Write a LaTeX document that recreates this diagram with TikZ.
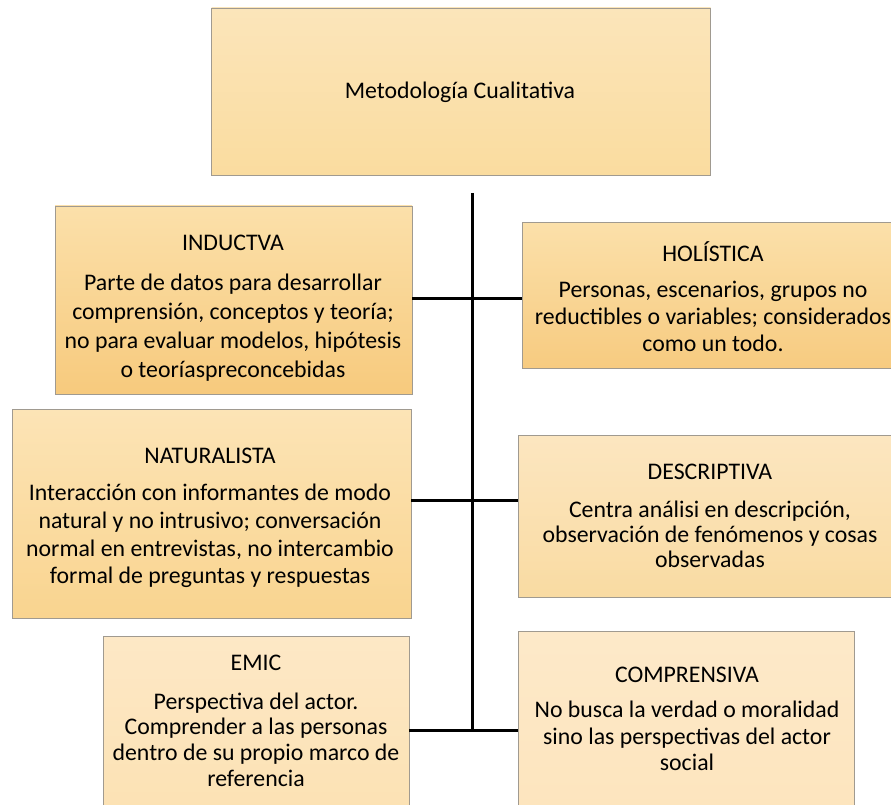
\documentclass[tikz,border=0pt]{standalone}
\usepackage{fontspec}
\setmainfont{Carlito}
\definecolor{edge}{HTML}{A09A90}
\tikzset{
  box/.style={draw=edge, line width=0.9pt, rectangle, inner sep=0pt},
  txt/.style={align=center, inner sep=0pt, font=\fontsize{23.8}{#1}\selectfont},
  conn/.style={line width=3pt, black}
}
\begin{document}
\begin{tikzpicture}[x=1pt,y=-1pt]
\useasboundingbox (0,0) rectangle (891,805);
% boxes
\node[box, top color={rgb,255:red,251;green,229;blue,186}, bottom color={rgb,255:red,250;green,220;blue,159}, minimum width=499pt, minimum height=167pt] (meto) at (461,91.5) {};
\node[box, top color={rgb,255:red,251;green,224;blue,170}, bottom color={rgb,255:red,247;green,202;blue,125}, minimum width=357pt, minimum height=188pt] (ind) at (233.5,300) {};
\node[box, top color={rgb,255:red,251;green,224;blue,170}, bottom color={rgb,255:red,247;green,203;blue,128}, minimum width=382pt, minimum height=146pt] (hol) at (713,295) {};
\node[box, top color={rgb,255:red,252;green,228;blue,182}, bottom color={rgb,255:red,249;green,212;blue,143}, minimum width=399pt, minimum height=209pt] (nat) at (211.5,513.5) {};
\node[box, top color={rgb,255:red,252;green,230;blue,192}, bottom color={rgb,255:red,249;green,219;blue,162}, minimum width=384pt, minimum height=162pt] (des) at (710,516) {};
\node[box, top color={rgb,255:red,253;green,232;blue,198}, bottom color={rgb,255:red,252;green,226;blue,180}, minimum width=306pt, minimum height=170pt] (emic) at (256,721) {};
\node[box, top color={rgb,255:red,253;green,233;blue,201}, bottom color={rgb,255:red,253;green,229;blue,190}, minimum width=336pt, minimum height=176pt] (comp) at (686,719) {};
% texts
\node[txt=29] (metoT) at (460,92) {Metodología Cualitativa};
\node[txt=29] (indT) at (233,308.5) {INDUCTVA\\[11pt]Parte de datos para desarrollar\\comprensión, conceptos y teoría;\\no para evaluar modelos, hipótesis\\o teoríaspreconcebidas};
\node[txt=27] (holT) at (713,297) {HOLÍSTICA\\[9pt]Personas, escenarios, grupos no\\reductibles o variables; considerados\\como un todo.};
\node[txt=27.7] (natT) at (210,518) {NATURALISTA\\[9.3pt]Interacción con informantes de modo\\natural y no intrusivo; conversación\\normal en entrevistas, no intercambio\\formal de preguntas y respuestas};
\node[txt=25] (desT) at (710,516) {DESCRIPTIVA\\[13pt]Centra análisi en descripción,\\observación de fenómenos y cosas\\observadas};
\node[txt=25.6] (emicT) at (256,720.5) {EMIC\\[13.4pt]Perspectiva del actor.\\Comprender a las personas\\dentro de su propio marco de\\referencia};
\node[txt=26.7] (compT) at (687,719) {COMPRENSIVA\\[8.3pt]No busca la verdad o moralidad\\sino las perspectivas del actor\\social};
% connectors
\coordinate (spTop) at (472,193);
\coordinate (j1) at (472,298);
\coordinate (j2) at (472,500);
\coordinate (j3) at (472,730);
\draw[conn] (spTop) -- (j3);
\draw[conn] (j1 -| ind.east) -- (j1 -| hol.west);
\draw[conn] (j2 -| nat.east) -- (j2 -| des.west);
\draw[conn] (j3 -| emic.east) -- (j3 -| comp.west);
\end{tikzpicture}
\end{document}
